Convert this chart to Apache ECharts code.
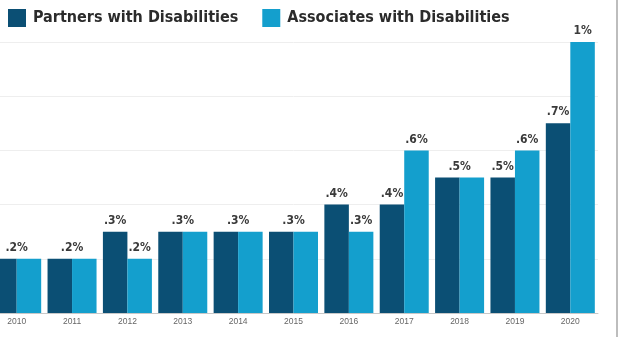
<!DOCTYPE html>
<html>
<head>
<meta charset="utf-8">
<script src="https://cdn.jsdelivr.net/npm/echarts@6/dist/echarts.min.js"></script>
<style>
  html, body { margin: 0; padding: 0; background: #ffffff; overflow: hidden; }
  /* the plot's first column runs past the left page edge */
  #chart { position: absolute; left: -11px; top: 0; width: 635px; height: 347px; }
</style>
</head>
<body>
<div id="chart"></div>
<script>
// Share of partners and associates reporting disabilities, by year (percent)
const years = ['2010', '2011', '2012', '2013', '2014', '2015', '2016', '2017', '2018', '2019', '2020'];
const partners = [0.2, 0.2, 0.3, 0.3, 0.3, 0.3, 0.4, 0.4, 0.5, 0.5, 0.7];
const associates = [0.2, 0.2, 0.2, 0.3, 0.3, 0.3, 0.3, 0.6, 0.5, 0.6, 1.0];
const seriesNames = ['Partners with Disabilities', 'Associates with Disabilities'];

const DARK = '#0b4f74';
const LIGHT = '#149fcd';
const BAR_W = 24.5;

// ".2%" style: drop the leading zero
function pct(v) {
  return String(v).replace(/^0(?=\.)/, '').replace(/\.0$/, '') + '%';
}

const labelStyle = {
  show: true,
  position: 'top',
  distance: 5,
  fontFamily: 'DejaVu Sans Condensed',
  fontWeight: 'bold',
  fontSize: 12,
  color: '#3a3a3a',
  formatter: p => pct(p.value)
};

// When both bars of a year are equal, one label sits over the pair
const partnerData = partners.map((v, i) => ({
  value: v,
  label: v === associates[i] ? { offset: [BAR_W / 2, 0] } : {}
}));
const associateData = associates.map((v, i) => ({
  value: v,
  label: v === partners[i] ? { show: false } : {}
}));

const chart = echarts.init(document.getElementById('chart'), null, { renderer: 'canvas' });
chart.setOption({
  animation: false,
  backgroundColor: '#ffffff',
  legend: {
    left: 19,
    top: 9,
    padding: 0,
    itemWidth: 18,
    itemHeight: 18,
    itemGap: 24,
    icon: 'rect',
    textStyle: {
      fontFamily: 'DejaVu Sans Condensed',
      fontWeight: 'bold',
      fontSize: 16,
      color: '#2b2b2b',
      padding: [0, 0, 0, 2]
    },
    data: seriesNames
  },
  grid: { left: 0, right: 26, top: 42, bottom: 34, containLabel: false },
  xAxis: {
    type: 'category',
    data: years,
    axisLine: { lineStyle: { color: '#c8c8c8', width: 1 } },
    axisTick: { show: false },
    axisLabel: { color: '#666666', fontSize: 8.5, fontFamily: 'Liberation Sans', margin: 4 }
  },
  yAxis: {
    type: 'value',
    min: 0,
    max: 1,
    interval: 0.2,
    axisLabel: { show: false },
    axisLine: { show: false },
    axisTick: { show: false },
    splitLine: { lineStyle: { color: '#eeeeee', width: 1 } }
  },
  series: [
    {
      name: seriesNames[0],
      type: 'bar',
      data: partnerData,
      barWidth: BAR_W,
      barGap: '0%',
      itemStyle: { color: DARK },
      label: labelStyle
    },
    {
      name: seriesNames[1],
      type: 'bar',
      data: associateData,
      barWidth: BAR_W,
      barGap: '0%',
      itemStyle: { color: LIGHT },
      label: labelStyle
    }
  ],
  graphic: [
    {
      type: 'line',
      shape: { x1: 628, y1: 0, x2: 628, y2: 337 },
      style: { stroke: '#bdbdbd', lineWidth: 2 }
    }
  ]
});
</script>
</body>
</html>
